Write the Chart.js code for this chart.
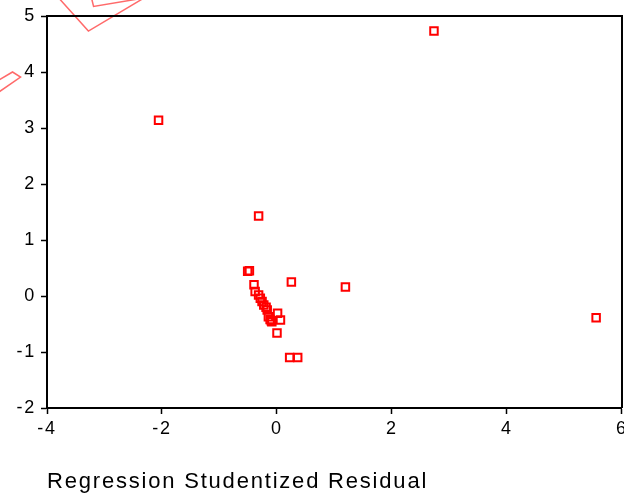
<!DOCTYPE html>
<html>
<head>
<meta charset="utf-8">
<script src="https://cdn.jsdelivr.net/npm/chart.js@4.4.1/dist/chart.umd.min.js"></script>
<style>
  html, body { margin: 0; padding: 0; background: #fff; overflow: hidden; }
  /* a little wider than the window so the last x label gets cut like the original */
  #wrap { width: 631px; height: 496px; position: relative; }
</style>
</head>
<body>
<div id="wrap"><canvas id="chart"></canvas></div>
<script>
// studentized residuals (x) against the other variable (y)
const residX = [2.73, -2.06, -0.32, 5.55, 1.19, 0.25, -0.48, -0.51, -0.40, -0.38, -0.32, -0.29,
                -0.26, -0.23, -0.19, -0.17, 0.01, -0.15, -0.12, -0.09, -0.10, 0.06, 0.00, 0.22, 0.36];
const residY = [4.73, 3.14, 1.43, -0.39, 0.16, 0.25, 0.45, 0.44, 0.20, 0.08, 0.02, -0.04,
                -0.10, -0.16, -0.20, -0.25, -0.31, -0.37, -0.42, -0.46, -0.44, -0.43, -0.66, -1.10, -1.10];

const xTicks = [-4, -2, 0, 2, 4, 6];
const yTicks = [-2, -1, 0, 1, 2, 3, 4, 5];
const axisTitle = 'Regression Studentized Residual';

// stray tilted outlines poking in at the top-left of the original
const strayOuter = [{x: -4.03, y: 5.59}, {x: -3.28, y: 4.73}, {x: -1.94, y: 5.55}];
const strayInner = [{x: -3.24, y: 5.38}, {x: -3.19, y: 5.17}, {x: -2.03, y: 5.37}];
const strayLeft  = [{x: -4.98, y: 3.77}, {x: -4.60, y: 4.00}, {x: -4.46, y: 3.91}, {x: -4.98, y: 3.54}];

Chart.defaults.font.family = "'Liberation Sans', Arial, sans-serif";
Chart.defaults.color = '#000';

const points = residX.map((x, i) => ({x: x, y: residY[i]}));

const strayStyle = {
  showLine: true,
  pointRadius: 0,
  borderColor: 'rgba(255, 90, 90, 0.9)',
  borderWidth: 1.5,
  clip: false
};

// spacing the glyphs a bit like the original export, and closing the box
const framePlugin = {
  id: 'frame',
  beforeDraw(chart) {
    chart.ctx.letterSpacing = '1.8px';
  },
  afterDraw(chart) {
    const {ctx, chartArea: a} = chart;
    ctx.save();
    ctx.strokeStyle = '#000';
    ctx.lineWidth = 2;
    ctx.beginPath();
    ctx.moveTo(a.left, a.top);
    ctx.lineTo(a.right, a.top);
    ctx.lineTo(a.right, a.bottom);
    ctx.stroke();
    ctx.restore();
  }
};

new Chart(document.getElementById('chart'), {
  type: 'scatter',
  data: {
    datasets: [
      {
        label: 'residuals',
        data: points,
        pointStyle: 'rect',
        pointRadius: 5.3,
        pointHoverRadius: 5.3,
        borderWidth: 2,
        borderColor: '#ff0000',
        backgroundColor: 'rgba(0,0,0,0)'
      },
      Object.assign({label: 'a', data: strayOuter}, strayStyle),
      Object.assign({label: 'b', data: strayInner}, strayStyle),
      Object.assign({label: 'c', data: strayLeft}, strayStyle)
    ]
  },
  options: {
    responsive: true,
    maintainAspectRatio: false,
    animation: false,
    layout: { padding: { top: 16, right: 2, bottom: 0, left: 0 } },
    plugins: {
      legend: { display: false },
      tooltip: { enabled: false }
    },
    scales: {
      x: {
        type: 'linear',
        min: Math.min(...xTicks),
        max: Math.max(...xTicks),
        afterBuildTicks: s => { s.ticks = xTicks.map(v => ({value: v})); },
        afterFit: s => { s.height = 88; },
        grid: { display: true, drawOnChartArea: false, tickLength: 6, tickWidth: 1.5, tickColor: '#000' },
        border: { display: true, color: '#000', width: 2 },
        ticks: { font: { size: 18 }, padding: 4, maxRotation: 0 },
        title: {
          display: true,
          text: axisTitle,
          align: 'start',
          font: { size: 22 },
          padding: { top: 0, bottom: 1 }
        }
      },
      y: {
        type: 'linear',
        min: Math.min(...yTicks),
        max: Math.max(...yTicks),
        afterBuildTicks: s => { s.ticks = yTicks.map(v => ({value: v})); },
        afterFit: s => { s.width = 47; s.paddingTop = 0; s.paddingBottom = 0; },
        grid: { display: true, drawOnChartArea: false, tickLength: 6, tickWidth: 1.5, tickColor: '#000' },
        border: { display: true, color: '#000', width: 2 },
        ticks: { font: { size: 18 }, padding: 5 }
      }
    }
  },
  plugins: [framePlugin]
});
</script>
</body>
</html>
